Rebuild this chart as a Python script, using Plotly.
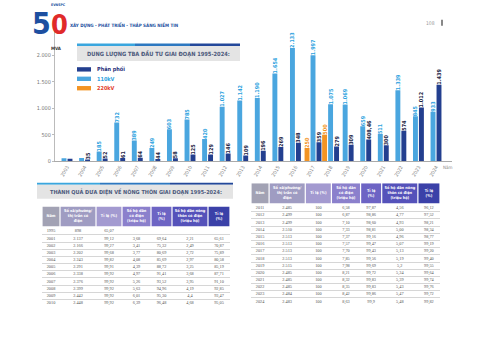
import plotly.graph_objects as go

W, H = 480, 339
NARROW = "Liberation Sans Narrow, DejaVu Sans Condensed, Arial Narrow, sans-serif"
SERIF = "Liberation Serif, DejaVu Serif, serif"

# ---------------- bar chart data ----------------
years = [str(y) for y in range(2003, 2025)]
phan_phoi = [45, 35, 52, 61, 64, 44, 58, 125, 129, 146, 109, 196, 269, 348, 359,
             279, 309, 408.46, 300, 574, 1012, 1439]
kv110 = [57, 62, 185, 732, 389, 249, 603, 785, 420, 1027, 1142, 1190, 1654, 2133,
         1997, 1075, 1069, 659, 511, 1339, 845, 933]
kv220 = [None] * 14 + [250, 500] + [None] * 6
hidden_light_labels = {0, 1}
hidden_dark_labels = {0}

C_LIGHT = "#4aa6df"
C_DARK = "#233f8f"
C_ORANGE = "#f39423"

# ---------------- table data ----------------
headers = ["Năm", "Số xã/phường/<br>thị trấn có<br>điện", "Tỉ lệ (%)",
           "Số hộ dân<br>có điện<br>(triệu hộ)", "Tỉ lệ<br>(%)",
           "Số hộ dân nông<br>thôn có điện<br>(triệu hộ)", "Tỉ lệ<br>(%)"]
header_colors = ["#a2a2b4", "#9f9cc2", "#a39ad0", "#8b80cc", "#6d64c4", "#5552ba", "#3b41a8"]

left_years = ["1995", "2001", "2002", "2003", "2004", "2005", "2006", "2007", "2008", "2009", "2010"]
left_xa = ["898", "2.137", "2.166", "2.202", "2.243", "2.291", "2.338", "2.376", "2.399", "2.442", "2.448"]
left_xa_pct = ["65,07", "99,12", "99,27", "99,68", "99,82", "99,91", "99,92", "99,92", "99,92", "99,92", "99,92"]
left_ho = ["", "3,68", "3,41", "3,77", "4,08", "4,39", "4,97", "5,26", "5,63", "6,01", "6,39"]
left_ho_pct = ["", "69,64", "75,32", "80,69", "85,69", "88,72", "91,41", "93,52", "94,96", "95,30", "96,48"]
left_nt = ["", "2,21", "2,49", "2,72", "2,97", "3,25", "3,68", "3,95", "4,19", "4,4", "4,68"]
left_nt_pct = ["", "65,61", "70,87", "75,89", "80,58", "85,19", "87,71", "91,10", "92,85", "93,47", "95,05"]

right_years = [str(y) for y in range(2011, 2025)]
right_xa = ["2.485", "2.499", "2.499", "2.510", "2.513", "2.513", "2.513", "2.513", "2.515",
            "2.485", "2.485", "2.485", "2.484", "2.483"]
right_xa_pct = ["100"] * 14
right_ho = ["6,58", "6,87", "7,10", "7,33", "7,37", "7,57", "7,70", "7,85", "7,98", "8,21",
            "8,32", "8,35", "8,42", "8,63"]
right_ho_pct = ["97,87", "98,86", "98,60", "98,81", "99,16", "99,47", "99,43", "99,56", "99,69",
                "99,72", "99,83", "99,83", "99,86", "99,9"]
right_nt = ["4,56", "4,77", "4,93", "5,00", "4,96", "5,07", "5,13", "5,19", "5,2", "5,34",
            "5,39", "5,43", "5,47", "5,48"]
right_nt_pct = ["96,12", "97,52", "98,21", "98,34", "98,77", "99,19", "99,20", "99,40", "99,55",
                "99,64", "99,74", "99,76", "99,72", "99,82"]

col_widths = [18, 36, 26, 29, 21, 36, 22]


def px(x):
    return x / W


def py(y):
    return 1 - y / H


fig = go.Figure()

# ---------------- bars ----------------
BW = 0.28
light_off, dark_off, orange_off = [], [], []
for v in kv220:
    if v is None:
        light_off.append(-0.31)
        dark_off.append(0.03)
        orange_off.append(-0.48)
    else:
        orange_off.append(-0.48)
        light_off.append(-0.14)
        dark_off.append(0.20)

lbl_font = dict(family=NARROW, size=5.5, weight="bold")
fig.add_trace(go.Bar(
    name="110kV", x=years, y=kv110, width=BW, offset=light_off,
    marker=dict(color=C_LIGHT, line=dict(width=0)),
    texttemplate=["" if i in hidden_light_labels else "%{y:,}" for i in range(len(years))],
    textposition="outside", textangle=-90, constraintext="none", cliponaxis=False,
    textfont=dict(color="#2fa3e0", **lbl_font)))
fig.add_trace(go.Bar(
    name="Phân phối", x=years, y=phan_phoi, width=BW, offset=dark_off,
    marker=dict(color=C_DARK, line=dict(width=0)),
    texttemplate=["" if i in hidden_dark_labels else "%{y:,}" for i in range(len(years))],
    textposition="outside", textangle=-90, constraintext="none", cliponaxis=False,
    textfont=dict(color="#1b2445", **lbl_font)))
fig.add_trace(go.Bar(
    name="220kV", x=years, y=kv220, width=BW, offset=orange_off,
    marker=dict(color=C_ORANGE, line=dict(width=0)),
    texttemplate="%{y:,}", textposition="outside", textangle=-90,
    constraintext="none", cliponaxis=False,
    textfont=dict(color=C_ORANGE, **lbl_font)))

# ---------------- tables (scatter text on own axes) ----------------
centers = []
acc = 0
for w in col_widths:
    centers.append(acc + w / 2)
    acc += w
total_w = acc


def add_table(cols, n_rows, xa, ya):
    fig.add_trace(go.Bar(
        x=centers, y=[2.76] * 7, base=[-3.46] * 7, width=[w - 1.2 for w in col_widths],
        marker=dict(color=header_colors, line=dict(width=0)),
        xaxis=xa, yaxis=ya, hoverinfo="skip"))
    fig.add_trace(go.Scatter(
        x=centers, y=[-2.08] * 7, text=headers, mode="text", textposition="middle center",
        textfont=dict(family=NARROW, size=3.9, color="white", weight="bold"),
        xaxis=xa, yaxis=ya, cliponaxis=False, hoverinfo="skip"))
    for j, col in enumerate(cols):
        fig.add_trace(go.Scatter(
            x=[centers[j]] * n_rows, y=list(range(n_rows)), text=col, mode="text",
            textposition="middle center",
            textfont=dict(family=SERIF, size=4.3, color="#555555"),
            xaxis=xa, yaxis=ya, cliponaxis=False, hoverinfo="skip"))


add_table([left_years, left_xa, left_xa_pct, left_ho, left_ho_pct, left_nt, left_nt_pct],
          len(left_years), "x2", "y2")
add_table([right_years, right_xa, right_xa_pct, right_ho, right_ho_pct, right_nt, right_nt_pct],
          len(right_years), "x3", "y3")

table_axis_x = dict(showgrid=False, zeroline=False, showticklabels=False, ticks="",
                    range=[0, total_w], fixedrange=True)


def table_axis_y(n):
    return dict(range=[n - 0.5, -3.46], tickvals=[i + 0.5 for i in range(n)], showgrid=True,
                gridcolor="#d6d6d6", gridwidth=0.6, zeroline=False, showticklabels=False,
                ticks="")


# ---------------- decorations ----------------
shapes = []
annotations = []


def rect(x0, y0, x1, y1, color):
    shapes.append(dict(type="rect", xref="paper", yref="paper", x0=px(x0), x1=px(x1),
                       y0=py(y1), y1=py(y0), fillcolor=color, line=dict(width=0), layer="below"))


def ann(x, y, text, size, color, family=NARROW, weight="normal", xanchor="center"):
    annotations.append(dict(x=px(x), y=py(y), xref="paper", yref="paper", text=text,
                            showarrow=False, xanchor=xanchor, yanchor="middle",
                            font=dict(family=family, size=size, color=color, weight=weight)))


# banner 1
rect(77, 44, 135, 46.5, "#3aa6de")
rect(135, 44, 190, 46.5, "#2d78c0")
rect(190, 44, 240, 46.5, "#23489a")
rect(77, 46.5, 240, 61.5, "#e4e4e4")
ann(158.5, 54, "DUNG LƯỢNG TBA ĐẦU TƯ GIAI ĐOẠN 1995-2024:", 5.7, "#4d5a7c", weight="bold")

# banner 2
rect(37, 184.5, 100, 186.5, "#3aa6de")
rect(100, 184.5, 170, 186.5, "#2d78c0")
rect(170, 184.5, 233, 186.5, "#23489a")
rect(37, 186.5, 233, 200.5, "#e4e4e4")
ann(136, 194, "THÀNH QUẢ ĐƯA ĐIỆN VỀ NÔNG THÔN GIAI ĐOẠN 1995-2024:", 5.5, "#4d5a7c", weight="bold")

# legend
leg = [("Phân phối", C_DARK, "#1f2f7a", 70), ("110kV", C_LIGHT, "#2fa3e0", 79.5),
       ("220kV", C_ORANGE, "#e2402c", 89)]
for name, c, tc, yy in leg:
    rect(77, yy - 2.2, 91, yy + 2.2, c)
    ann(95, yy, name, 5.5, tc, weight="bold", xanchor="left")

# axis labels
ann(56.5, 49, "MVA", 4.5, "#333333", weight="bold")
ann(448, 169, "Năm", 4.5, "#888888")

# header: logo + tagline + page number
ann(41.5, 24, "5", 30, "#1d4fa0", weight="bold")
ann(59, 25, "0", 27, "#e02a2a", weight="bold")
ann(58, 5.5, "EVNSPC", 3.5, "#1d4fa0", weight="bold")
ann(68, 25, "XÂY DỰNG - PHÁT TRIỂN - THẮP SÁNG NIỀM TIN", 4.5, "#1d4fa0",
    weight="bold", xanchor="left")
ann(430, 23, "108", 5, "#999999")
rect(441, 20, 443, 26, "#888888")

fig.update_layout(
    width=W, height=H, margin=dict(l=0, r=0, t=0, b=0), autosize=False,
    paper_bgcolor="white", plot_bgcolor="white", showlegend=False,
    separators=",.", barmode="overlay",
    xaxis=dict(domain=[px(55), px(452)], type="category", range=[-0.683, 21.91],
               showline=True, linecolor="#aaaaaa", linewidth=1, ticks="", tickangle=-60,
               tickfont=dict(family=NARROW, size=5, color="#888888"), showgrid=False),
    yaxis=dict(domain=[py(162.7), py(31)], range=[0, 2457], tickvals=[0, 500, 1000, 1500, 2000],
               tickformat=",d", showgrid=False, zeroline=False, showline=True,
               linecolor="#bbbbbb", ticks="outside", ticklen=2, tickcolor="#bbbbbb",
               tickfont=dict(family=NARROW, size=5.5, color="#777777")),
    xaxis2=dict(domain=[px(42), px(230)], anchor="y2", **table_axis_x),
    yaxis2=dict(domain=[py(309.3), py(208.3)], anchor="x2", **table_axis_y(len(left_years))),
    xaxis3=dict(domain=[px(251), px(440)], anchor="y3", **table_axis_x),
    yaxis3=dict(domain=[py(307.8), py(185)], anchor="x3", **table_axis_y(len(right_years))),
    shapes=shapes, annotations=annotations,
)

fig.write_html("out.html")
